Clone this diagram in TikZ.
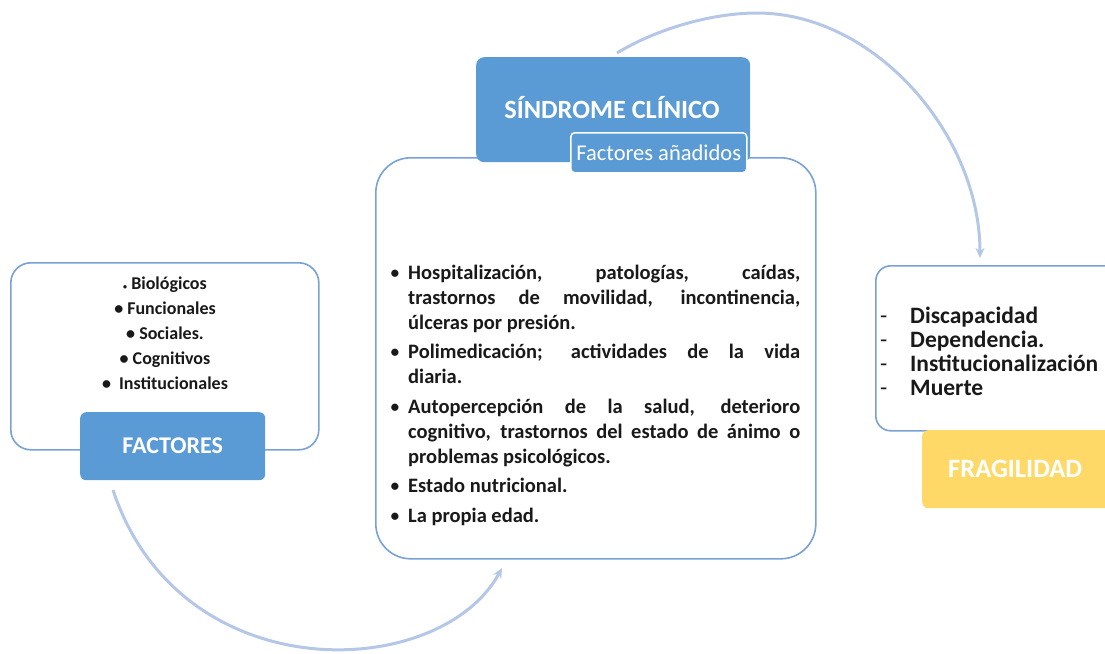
\documentclass[tikz,border=0pt]{standalone}
\usepackage{fontspec}
\setmainfont{Carlito}
\usepackage{enumitem}
\usetikzlibrary{arrows.meta}
\definecolor{boxblue}{RGB}{91,155,213}
\definecolor{lineblue}{RGB}{120,162,214}
\definecolor{arcblue}{RGB}{180,199,231}
\definecolor{fragyellow}{RGB}{255,217,104}
\definecolor{txt}{RGB}{25,25,25}
\tikzset{
  outline/.style={draw=lineblue, line width=1.6pt, fill=white, inner sep=0pt},
  bluebox/.style={fill=boxblue, text=white, rounded corners=6pt, inner sep=0pt, font=\bfseries\fontsize{24}{28}\selectfont},
  subbox/.style={fill=boxblue, draw=white, line width=1.5pt, text=white, rounded corners=4pt, inner sep=0pt, font=\fontsize{22.5}{26}\selectfont},
  yellowbox/.style={fill=fragyellow, text=white, rounded corners=6pt, inner sep=0pt, font=\bfseries\fontsize{26.5}{30}\selectfont},
  arcarrow/.style={draw=arcblue, line width=3pt, -{Stealth[length=10pt,width=9pt]}},
  listtext/.style={text=txt, inner sep=0pt, font=\bfseries},
}
\begin{document}
\begin{tikzpicture}[x=1pt,y=-1pt]
\useasboundingbox (0,0) rectangle (1105,653);
\clip (0,0) rectangle (1105,653);

% arcs
\coordinate (a1s) at (113,490);
\coordinate (a1e) at (502,568);
\coordinate (a2s) at (617,53);
\coordinate (a2m) at (757,13);
\coordinate (a2e) at (980,258);
\draw[arcarrow] (a1s) .. controls (180,692) and (440,682) .. (a1e);
\draw[arcarrow] (a2s) .. controls (660,27) and (715,13) .. (a2m) .. controls (875,13) and (980,135) .. (a2e);

% left group
\node[outline, rounded corners=20pt, minimum width=308pt, minimum height=187pt, anchor=north west] (leftbox) at (10,262) {};
\node[listtext, align=center, font=\bfseries\fontsize{18}{25}\selectfont] (leftlist) at (165,333)
  {{\footnotesize\textbullet} Biológicos\\ \textbullet\ Funcionales\\ \textbullet\ Sociales.\\ \textbullet\ Cognitivos\\ \textbullet\ \ Institucionales};
\node[bluebox, minimum width=185pt, minimum height=68pt, anchor=north west] (factores) at (80,412) {FACTORES};

% center group
\node[outline, rounded corners=35pt, minimum width=440pt, minimum height=401pt, anchor=north west] (centerbox) at (375,157) {};
\node[bluebox, rounded corners=8pt, minimum width=274pt, minimum height=105pt, anchor=north west] (sindrome) at (476,57) {};
\node[text=white, font=\bfseries\fontsize{26.3}{30}\selectfont, inner sep=0pt] (sindtitle) at (612,108) {SÍNDROME CLÍNICO};
\node[subbox, minimum width=176pt, minimum height=40pt, anchor=north west] (anadidos) at (570,132) {Factores añadidos};
\node[listtext, anchor=north west, text width=410pt, align=justify, font=\bfseries\fontsize{20.5}{25}\selectfont] (centerlist) at (390,254) {%
\hyphenpenalty=10000\exhyphenpenalty=10000
\begin{itemize}[leftmargin=18pt,labelsep=8pt,itemsep=4.5pt,topsep=0pt,parsep=0pt,partopsep=0pt]
\item Hospitalización, patologías, caídas,\linebreak trastornos de movilidad, incontinencia,\linebreak úlceras por presión.
\item Polimedicación; actividades de la vida\linebreak diaria.
\item Autopercepción de la salud, deterioro\linebreak cognitivo, trastornos del estado de ánimo o\linebreak problemas psicológicos.
\item Estado nutricional.
\item La propia edad.
\end{itemize}};

% right group
\node[outline, rounded corners=15pt, minimum width=260pt, minimum height=165pt, anchor=north west] (rightbox) at (875,265) {};
\node[listtext, anchor=west, align=left, font=\bfseries\fontsize{23.5}{24}\selectfont] (rightlist) at (880,351)
  {\makebox[30pt][l]{\mdseries-}Discapacidad\\ \makebox[30pt][l]{\mdseries-}Dependencia.\\ \makebox[30pt][l]{\mdseries-}Institucionalización\\ \makebox[30pt][l]{\mdseries-}Muerte};
\node[yellowbox, minimum width=200pt, minimum height=78pt, anchor=north west, text width=184pt, align=left] (fragilidad) at (922,430) {\hspace*{18pt}FRAGILIDAD};
\end{tikzpicture}
\end{document}
